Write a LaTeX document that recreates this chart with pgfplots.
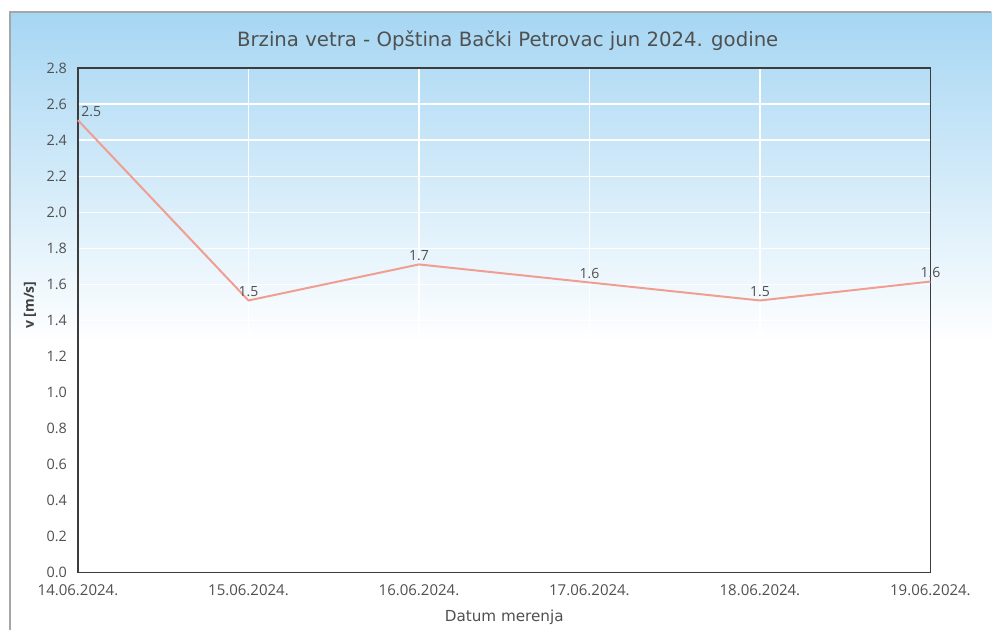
\documentclass[border=0pt]{standalone}
\usepackage{pgfplots}
\pgfplotsset{compat=1.18}
\usepackage{fontspec}
\setmainfont{Open Sans}
\newfontfamily\dvfont{DejaVu Sans}
\definecolor{bgblue}{RGB}{166,214,243}
\definecolor{linec}{RGB}{240,158,146}
\definecolor{axc}{RGB}{60,60,60}
\definecolor{txt}{RGB}{80,80,80}
\begin{document}
\begin{tikzpicture}
\fill[white] (0pt,0pt) rectangle (496pt,315pt);
\shade[top color=bgblue, bottom color=white] (5pt,143pt) rectangle (496pt,309pt);
\draw[gray!70, line width=0.6pt] (5pt,0pt) -- (5pt,309pt) -- (496pt,309pt);
\node[text=txt, font=\dvfont\fontsize{9.85}{11}\selectfont] at (254pt,294.5pt) {Brzina vetra - Opština Bački Petrovac jun 2024. godine};
\begin{axis}[
  at={(39pt,28.5pt)}, anchor=south west,
  scale only axis, width=426.5pt, height=252.5pt,
  xmin=0, xmax=5, ymin=0, ymax=2.8,
  xtick={0,...,5},
  xticklabels={14.06.2024.,15.06.2024.,16.06.2024.,17.06.2024.,18.06.2024.,19.06.2024.},
  ytick={0,0.2,...,2.81},
  yticklabel style={/pgf/number format/fixed, /pgf/number format/fixed zerofill, /pgf/number format/precision=1, xshift=-2pt},
  /pgf/number format/assume math mode=true,
  tick style={draw=none},
  tick label style={font=\fontsize{7.2}{8}\selectfont, text=txt},
  xticklabel style={yshift=-2.5pt, font=\fontsize{7.5}{8}\selectfont},
  axis line style={draw=axc, line width=0.75pt},
  grid=major,
  major grid style={white, line width=0.6pt},
  xlabel={Datum merenja},
  ylabel={v [m/s]},
  xlabel style={at={(axis description cs:0.5,-0.088)}, anchor=center, font=\dvfont\fontsize{7.6}{8}\selectfont, text=txt},
  ylabel style={at={(axis description cs:-0.0563,0.53)}, anchor=center, font=\fontsize{7}{8}\selectfont\bfseries, text=txt!80!black},
  clip=false,
  every node near coord/.append style={font=\fontsize{7}{8}\selectfont, text=txt, inner sep=1.5pt},
]
\addplot[linec, line width=1pt, mark=none] coordinates {
  (0,2.51) (1,1.51) (2,1.71) (3,1.61) (4,1.51) (5,1.615)
};
\addplot[draw=none, mark=none, nodes near coords, point meta=explicit symbolic,
  every node near coord/.append style={anchor=south west}] coordinates {
  (0,2.51) [2.5]
};
\addplot[draw=none, mark=none, nodes near coords, point meta=explicit symbolic,
  every node near coord/.append style={anchor=south}] coordinates {
  (1,1.51) [1.5] (2,1.71) [1.7] (3,1.61) [1.6] (4,1.51) [1.5] (5,1.615) [1.6]
};
\end{axis}
\end{tikzpicture}
\end{document}
